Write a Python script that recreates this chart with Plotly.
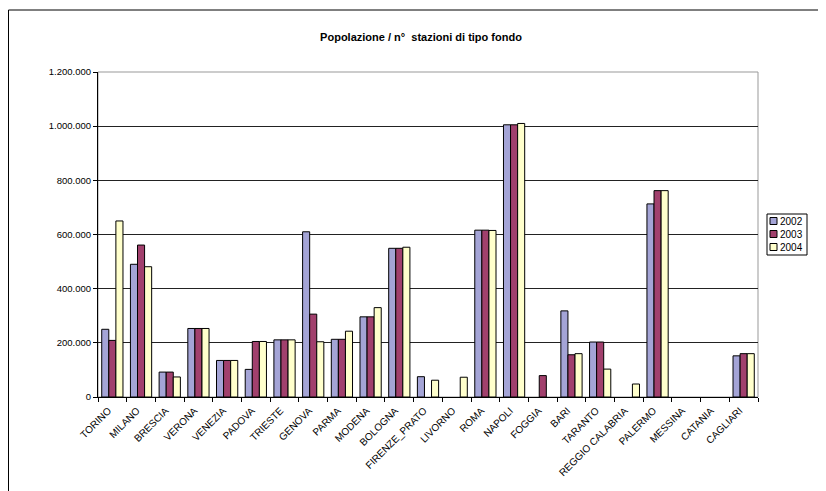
import plotly.graph_objects as go

categories = ["TORINO", "MILANO", "BRESCIA", "VERONA", "VENEZIA", "PADOVA", "TRIESTE",
              "GENOVA", "PARMA", "MODENA", "BOLOGNA", "FIRENZE_PRATO", "LIVORNO", "ROMA",
              "NAPOLI", "FOGGIA", "BARI", "TARANTO", "REGGIO CALABRIA", "PALERMO",
              "MESSINA", "CATANIA", "CAGLIARI"]

v2002 = [250000, 490000, 92000, 253000, 135000, 102000, 211000, 610000, 213000, 296000,
         549000, 75000, None, 616000, 1005000, None, 318000, 203000, None, 713000,
         None, None, 152000]
v2003 = [209000, 561000, 92000, 253000, 135000, 205000, 211000, 306000, 213000, 296000,
         549000, None, None, 616000, 1005000, 79000, 156000, 203000, None, 762000,
         None, None, 160000]
v2004 = [650000, 481000, 74000, 253000, 135000, 205000, 211000, 204000, 243000, 330000,
         553000, 62000, 73000, 615000, 1010000, None, 160000, 103000, 48000, 762000,
         None, None, 160000]

series_names = ["2002", "2003", "2004"]
series_vals = [v2002, v2003, v2004]
series_cols = ["#A4A4D6", "#A1406D", "#FFFFCC"]

y_tickvals = [0, 200000, 400000, 600000, 800000, 1000000, 1200000]
y_ticktext = ["0", "200.000", "400.000", "600.000", "800.000", "1.000.000", "1.200.000"]

fig = go.Figure()
for name, vals, col in zip(series_names, series_vals, series_cols):
    fig.add_trace(go.Bar(name=name, x=categories, y=vals, showlegend=False,
                         marker=dict(color=col, line=dict(color="#000000", width=1))))

# page body has an 8px margin; work in screen coordinates and offset
O = 8
W, H = 826 - O, 491 - O
L, R, T, B = 98 - O, 758 - O, 72 - O, 397 - O
pw, ph = R - L, B - T

def px(sx):
    return (sx - O - L) / pw

def py(sy):
    return (B - (sy - O)) / ph

FONT = "Liberation Sans, Arial, sans-serif"

fig.update_layout(
    width=W, height=H,
    margin=dict(l=L, r=W - R, t=T, b=H - B, pad=0, autoexpand=False),
    paper_bgcolor="white", plot_bgcolor="white",
    font=dict(family=FONT, size=9, color="#000000"),
    barmode="group", bargap=0.26, bargroupgap=0,
    title=dict(text="<b>Popolazione / n°  stazioni di tipo fondo</b>",
               x=(421 - O) / W, xanchor="center", y=1 - (37 - O) / H, yanchor="middle",
               xref="container", yref="container",
               font=dict(size=11, family=FONT, color="#000000")),
    showlegend=False,
)

fig.update_yaxes(range=[0, 1200000], tickvals=y_tickvals, ticktext=y_ticktext,
                 showgrid=True, gridcolor="#222222", gridwidth=1,
                 showline=True, linecolor="#000000", linewidth=1,
                 ticks="outside", ticklen=4, tickcolor="#000000", automargin=False,
                 tickfont=dict(size=9.5, color="#000000"), zeroline=False, fixedrange=True)
fig.update_xaxes(type="category", tickangle=-45, tickson="boundaries",
                 ticks="outside", ticklen=4, tickcolor="#000000", automargin=False,
                 showline=True, linecolor="#000000", linewidth=1,
                 ticklabelshift=-4, ticklabelstandoff=3,
                 tickfont=dict(size=10, color="#000000"), showgrid=False)

# plot area border and outer chart border
fig.add_shape(type="rect", xref="paper", yref="paper", x0=0, x1=1, y0=0, y1=1,
              line=dict(color="#999999", width=1), layer="below")
fig.add_shape(type="rect", xref="paper", yref="paper",
              x0=px(8.5), x1=px(850), y0=py(10), y1=py(520),
              line=dict(color="#000000", width=1))

# legend box (drawn manually so it sits exactly beside the plot)
fig.add_shape(type="rect", xref="paper", yref="paper",
              x0=px(767), x1=px(807), y0=py(214), y1=py(255),
              line=dict(color="#000000", width=1), fillcolor="white")
row_y = [221, 234, 247]
for name, col, yy in zip(series_names, series_cols, row_y):
    fig.add_shape(type="rect", xref="paper", yref="paper",
                  x0=px(770), x1=px(777), y0=py(yy + 3.5), y1=py(yy - 3.5),
                  line=dict(color="#000000", width=1), fillcolor=col)
    fig.add_annotation(xref="paper", yref="paper", x=px(778), y=py(yy),
                       xanchor="left", yanchor="middle", showarrow=False,
                       text=name, font=dict(size=10, family=FONT, color="#000000"))

fig.write_html("out.html")
